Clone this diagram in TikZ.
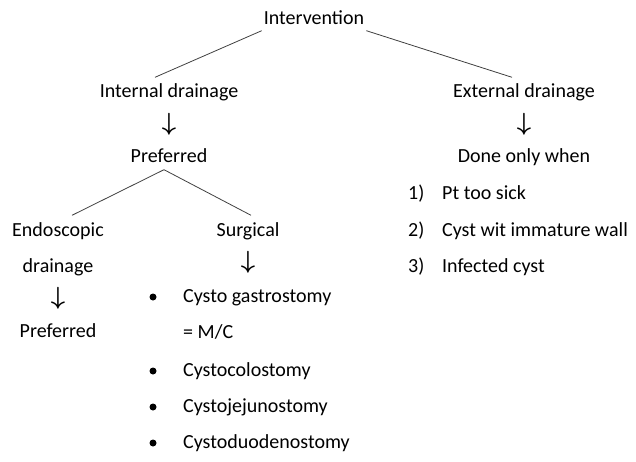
\documentclass[tikz,border=0pt]{standalone}
\usepackage{fontspec}
\setmainfont{Carlito}
\usetikzlibrary{positioning}

\tikzset{
  txt/.style={inner sep=2pt, text height=13pt, text depth=4pt, font=\fontsize{20}{23}\selectfont},
  item/.style={txt, anchor=west},
  dnarrow/.style={inner sep=0pt, font=\fontsize{24}{24}\selectfont\boldmath},
  dot/.style={circle, fill, inner sep=0pt, minimum size=7pt},
  link/.style={line width=0.8pt, black!75}
}

\begin{document}
\begin{tikzpicture}[x=1pt, y=-1pt]
\useasboundingbox (0,0) rectangle (636,462);

% Top of the tree
\node[txt] (intv) at (314,20) {Intervention};
\node[txt] (intd) at (169,93) {Internal drainage};
\node[txt] (extd) at (524,93) {External drainage};
\draw[link] (intv.south west) -- ([xshift=-14pt,yshift=5pt]intd.north);
\draw[link] (intv.south east) -- ([xshift=-12pt,yshift=5pt]extd.north);

% Internal branch
\node[dnarrow] (arrA) at (169,124) {$\downarrow$};
\node[txt] (pref) at (169,158) {Preferred};
\node[txt] (endo) at (58,232) {Endoscopic};
\node[txt] (endo2) at (58,268) {drainage};
\node[dnarrow] (arrB) at (58,298) {$\downarrow$};
\node[txt] (pref2) at (58,333) {Preferred};
\node[txt] (surg) at (248,232) {Surgical};
\node[dnarrow] (arrC) at (248,262) {$\downarrow$};
\draw[link] ([xshift=-5pt,yshift=-1pt]pref.south) -- ([xshift=14pt,yshift=6pt]endo.north);
\draw[link] ([xshift=-5pt,yshift=-1pt]pref.south) -- ([xshift=3pt,yshift=6pt]surg.north);

% Surgical options
\node[dot] (d1) at (153,297) {};
\node[item] (s1) at (181,298) {Cysto gastrostomy};
\node[item] (s1b) at (181,334) {= M/C};
\node[dot] (d2) at (153,371) {};
\node[item] (s2) at (181,372) {Cystocolostomy};
\node[dot] (d3) at (153,407) {};
\node[item] (s3) at (181,408) {Cystojejunostomy};
\node[dot] (d4) at (153,443) {};
\node[item] (s4) at (181,444) {Cystoduodenostomy};

% External branch
\node[dnarrow] (arrD) at (524,124) {$\downarrow$};
\node[txt] (done) at (524,158) {Done only when};
\node[item] (n1) at (406,195) {1)};
\node[item] (c1) at (440,195) {Pt too sick};
\node[item] (n2) at (406,232) {2)};
\node[item] (c2) at (440,232) {Cyst wit immature wall};
\node[item] (n3) at (406,268) {3)};
\node[item] (c3) at (440,268) {Infected cyst};
\end{tikzpicture}
\end{document}
